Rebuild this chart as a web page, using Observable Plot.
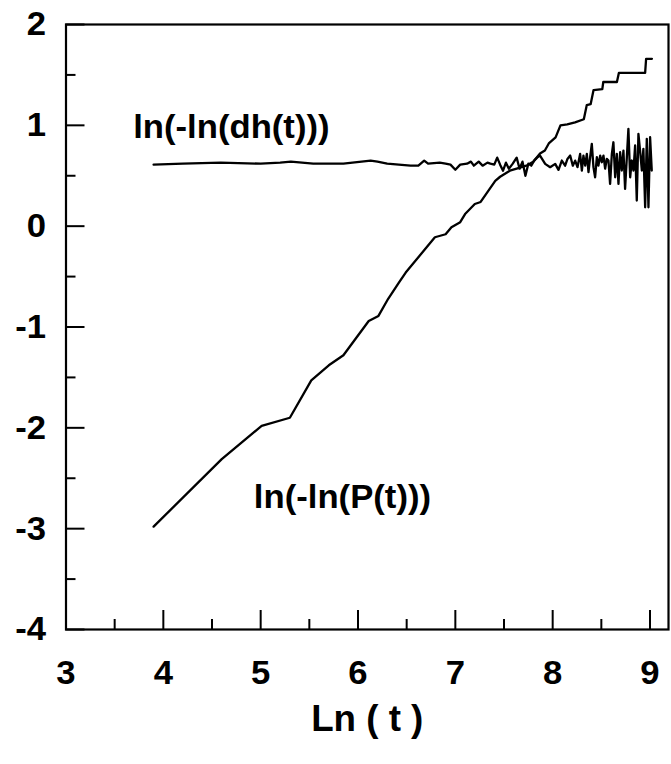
<!DOCTYPE html>
<html><head><meta charset="utf-8">
<script src="https://cdn.jsdelivr.net/npm/d3@7"></script>
<script src="https://cdn.jsdelivr.net/npm/@observablehq/plot@0.6"></script>
<style>html,body{margin:0;padding:0;background:#fff}svg{display:block}</style>
</head><body><div id="chart"></div>
<script>
// ln(-ln(P(t))) series
const pLnT = [3.90,4.60,5.01,5.30,5.52,5.70,5.85,6.11,6.21,6.31,6.42,6.49,6.79,6.90,6.96,7.05,7.10,7.20,7.26,7.41,7.46,7.51,7.56,7.63,7.73,7.80,7.87,7.92,7.96,8.03,8.08,8.15,8.23,8.32,8.35,8.39,8.42,8.51,8.52,8.66,8.68,8.95,8.96,9.02];
const pVal = [-2.98,-2.31,-1.98,-1.90,-1.53,-1.38,-1.28,-0.94,-0.89,-0.72,-0.56,-0.46,-0.11,-0.08,-0.01,0.04,0.12,0.22,0.24,0.45,0.49,0.52,0.55,0.57,0.60,0.64,0.72,0.75,0.82,0.88,1.00,1.01,1.03,1.06,1.20,1.21,1.35,1.36,1.43,1.43,1.52,1.52,1.66,1.66];
// ln(-ln(dh(t))) series
const dhLnT = [3.90,4.20,4.59,5.00,5.20,5.31,5.54,5.85,6.13,6.20,6.30,6.54,6.62,6.68,6.72,6.84,6.90,6.95,7.00,7.05,7.12,7.16,7.19,7.24,7.28,7.33,7.36,7.40,7.43,7.46,7.49,7.52,7.55,7.59,7.63,7.66,7.69,7.72,7.75,7.78,7.81,7.84,7.87,
  7.923,7.974,8.026,8.06,8.094,8.128,8.152,8.18,8.207,8.231,8.255,8.282,8.30,8.316,8.334,8.351,8.368,8.385,8.402,8.419,8.436,8.454,8.47,8.488,8.505,8.522,8.539,8.556,8.573,8.59,8.608,8.624,8.642,8.659,8.676,8.693,8.71,8.727,8.744,8.762,8.778,8.796,8.813,8.83,8.847,8.864,8.881,8.898,8.916,8.932,8.95,8.967,8.984,9.001,9.018];
const dhVal = [0.61,0.62,0.63,0.62,0.63,0.64,0.62,0.62,0.65,0.64,0.62,0.60,0.60,0.65,0.62,0.63,0.62,0.61,0.56,0.61,0.62,0.64,0.60,0.64,0.60,0.63,0.62,0.61,0.68,0.61,0.55,0.63,0.57,0.62,0.68,0.57,0.64,0.50,0.62,0.60,0.65,0.68,0.70,
  0.618,0.585,0.618,0.558,0.651,0.60,0.667,0.70,0.60,0.65,0.585,0.717,0.552,0.70,0.60,0.717,0.535,0.684,0.816,0.585,0.485,0.684,0.60,0.70,0.634,0.70,0.57,0.667,0.65,0.42,0.717,0.832,0.485,0.717,0.42,0.733,0.552,0.75,0.37,0.684,0.965,0.485,0.651,0.552,0.80,0.254,0.916,0.75,0.552,0.767,0.187,0.866,0.187,0.882,0.552];
// axes
const xMajor = [3,4,5,6,7,8,9];
const xMinor = [3.5,4.5,5.5,6.5,7.5,8.5];
const yMajor = [-4,-3,-2,-1,0,1,2];
const yMinor = [-3.5,-2.5,-1.5,-0.5,0.5,1.5];
const xTitle = "Ln ( t )";
const seriesLabels = [
  {text: "ln(-ln(dh(t)))", x: 3.69, y: 0.98},
  {text: "ln(-ln(P(t)))", x: 4.93, y: -2.69}
];

const W = 671, H = 764, mL = 65.5, mT = 24, mR = 3, mB = 135;
const FH = H - mT - mB, FW = W - mL - mR;
const pData = pLnT.map((x, i) => ({x, y: pVal[i]}));
const dhData = dhLnT.map((x, i) => ({x, y: dhVal[i]}));

const chart = Plot.plot({
  width: W, height: H,
  marginLeft: mL, marginTop: mT, marginRight: mR, marginBottom: mB,
  x: {domain: [3, 9.19]},
  y: {domain: [-4, 2]},
  style: {fontFamily: "'Liberation Sans', Arial, sans-serif", fontSize: "34px", fontWeight: "bold", color: "#000", background: "#fff"},
  marks: [
    Plot.line(dhData, {x: "x", y: "y", stroke: "#000", strokeWidth: 2.3}),
    Plot.line(pData, {x: "x", y: "y", stroke: "#000", strokeWidth: 2.3}),
    Plot.tickX(xMajor, {x: d => d, insetTop: FH - 19, stroke: "#000", strokeWidth: 2}),
    Plot.tickX(xMinor, {x: d => d, insetTop: FH - 10, stroke: "#000", strokeWidth: 2}),
    Plot.tickY(yMajor, {y: d => d, insetRight: FW - 19, stroke: "#000", strokeWidth: 2}),
    Plot.tickY(yMinor, {y: d => d, insetRight: FW - 10, stroke: "#000", strokeWidth: 2}),
    Plot.frame({stroke: "#000", strokeWidth: 2.2}),
    Plot.axisX(xMajor, {tickSize: 0, tickPadding: 30, label: null, fontSize: 34, fontWeight: "bold", fill: "#000", tickFormat: d => String(d)}),
    Plot.axisY(yMajor, {tickSize: 0, tickPadding: 20, label: null, fontSize: 34, fontWeight: "bold", fill: "#000", tickFormat: d => String(d)}),
    Plot.text([xTitle], {text: d => d, frameAnchor: "bottom", dy: 101, fontSize: 36, fontWeight: "bold", fill: "#000"}),
    Plot.text(seriesLabels, {x: "x", y: "y", text: "text", textAnchor: "start", fontSize: 34, fontWeight: "bold", fill: "#000"})
  ]
});
document.getElementById("chart").appendChild(chart);
const STRETCH = 1.02;
chart.querySelectorAll("text").forEach(t => {
  const w = t.getComputedTextLength();
  if (w > 0) {
    t.setAttribute("textLength", (w * STRETCH).toFixed(1));
    t.setAttribute("lengthAdjust", "spacingAndGlyphs");
  }
});
</script>
</body></html>
